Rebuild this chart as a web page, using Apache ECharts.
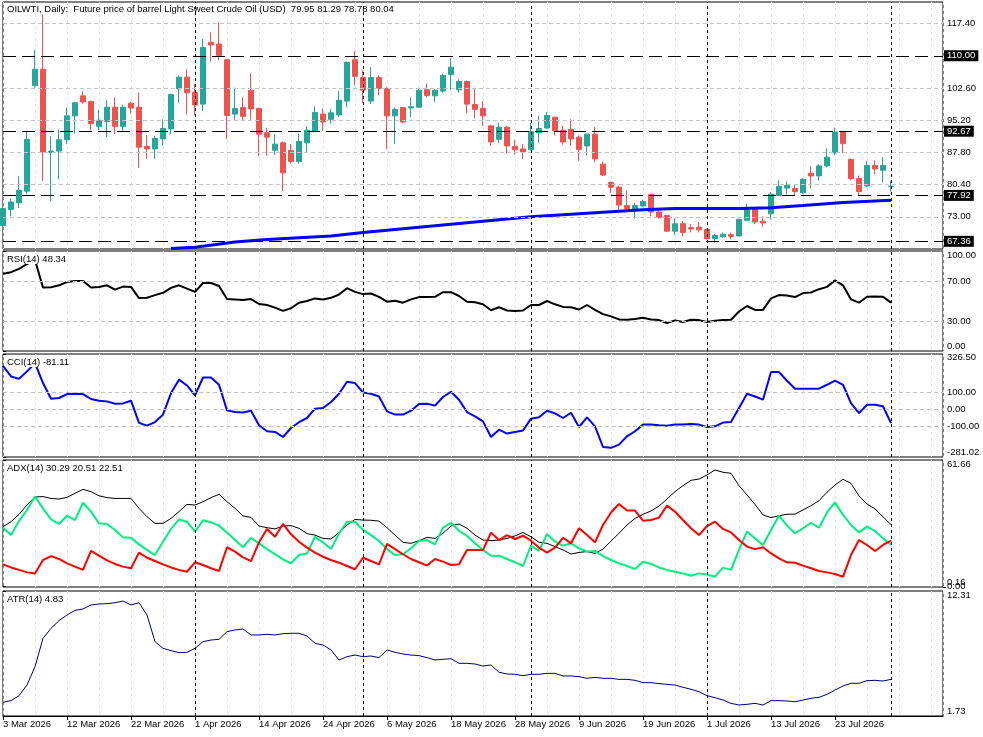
<!DOCTYPE html>
<html>
<head>
<meta charset="utf-8">
<title>OILWTI Daily</title>
<script src="https://cdn.jsdelivr.net/npm/echarts@6.0.0/dist/echarts.min.js"></script>
<style>
html, body { margin: 0; padding: 0; background: #fff; }
#chart { width: 983px; height: 737px; }
</style>
</head>
<body>
<div id="chart"></div>
<script>
// bottom axis: one date label every 8 bars
var dateLabels = ['3 Mar 2026', '12 Mar 2026', '22 Mar 2026', '1 Apr 2026', '14 Apr 2026', '24 Apr 2026', '6 May 2026',
  '18 May 2026', '28 May 2026', '9 Jun 2026', '19 Jun 2026', '1 Jul 2026', '13 Jul 2026', '23 Jul 2026'];
var dateLabelIdx = [0, 8, 16, 24, 32, 40, 48, 56, 64, 72, 80, 88, 96, 104];
var monthSeps = [24, 45, 66, 88, 111];

// daily candles
var opens = [71.0, 74.7, 76.2, 78.9, 103.2, 106.9, 87.8, 88.1, 90.7, 96.2,
  100.8, 99.5, 93.8, 94.9, 98.2, 93.8, 99.1, 98.2, 89.2, 88.6,
  90.9, 93.2, 102.4, 105.1, 101.6, 98.9, 113.1, 112.7, 109.1, 96.6,
  98.1, 102.1, 97.9, 92.3, 88.3, 90.0, 88.3, 85.7, 90.0, 92.6,
  96.6, 95.4, 96.4, 99.6, 109.1, 105.0, 99.6, 105.0, 102.5, 96.2,
  98.1, 98.0, 98.2, 102.2, 100.8, 101.9, 105.7, 102.2, 104.1, 98.8,
  97.9, 93.9, 90.8, 93.6, 89.2, 88.6, 88.4, 92.3, 93.4, 95.9,
  92.9, 93.1, 91.3, 89.3, 92.0, 85.1, 80.9, 79.8, 75.6, 74.8,
  75.5, 78.1, 74.1, 73.3, 69.7, 71.4, 70.5, 70.6, 70.1, 68.0,
  68.4, 68.9, 68.6, 72.2, 74.9, 72.0, 73.7, 77.9, 79.6, 79.5,
  78.5, 83.0, 82.4, 84.7, 87.7, 92.5, 86.2, 81.8, 80.1, 84.8,
  83.7, 79.95];
var highs = [75.2, 77.2, 82.3, 92.5, 111.3, 119.5, 91.5, 93.1, 98.1, 99.4,
  101.8, 99.7, 97.6, 99.8, 100.4, 98.8, 99.4, 101.6, 91.8, 91.6,
  95.4, 101.3, 105.5, 106.9, 103.6, 113.9, 115.4, 117.7, 109.3, 102.7,
  100.5, 105.9, 98.1, 93.4, 92.0, 90.3, 89.7, 92.1, 93.8, 98.4,
  97.9, 97.8, 101.9, 108.7, 111.1, 106.7, 107.4, 105.5, 102.8, 98.1,
  98.2, 100.4, 102.7, 103.6, 102.4, 105.9, 109.4, 104.6, 104.3, 102.7,
  99.6, 94.0, 94.6, 93.9, 90.7, 89.7, 94.6, 96.2, 97.1, 96.0,
  93.9, 95.4, 91.7, 92.1, 93.6, 85.7, 81.1, 80.2, 79.1, 76.2,
  76.9, 78.2, 74.5, 73.4, 72.6, 72.0, 71.3, 71.8, 70.3, 69.1,
  69.4, 69.4, 72.6, 76.0, 75.1, 73.1, 78.7, 81.4, 81.1, 80.5,
  81.9, 84.7, 85.1, 88.7, 93.5, 92.7, 86.4, 82.5, 85.8, 86.0,
  86.7, 81.29];
var lows = [70.5, 73.1, 75.0, 78.2, 102.7, 81.2, 76.6, 81.6, 89.7, 92.1,
  99.0, 92.9, 92.9, 91.3, 92.0, 92.6, 96.7, 84.2, 86.3, 86.3,
  89.4, 92.0, 99.2, 96.5, 96.3, 97.3, 108.7, 109.0, 90.9, 95.3,
  95.3, 95.3, 87.0, 87.0, 87.2, 78.9, 85.2, 85.2, 87.7, 92.6,
  92.7, 94.4, 95.9, 98.2, 103.2, 99.2, 98.9, 100.9, 88.6, 89.7,
  94.6, 95.9, 98.1, 100.5, 99.4, 101.5, 102.2, 101.5, 96.9, 95.7,
  93.9, 89.3, 89.9, 87.6, 87.3, 86.2, 88.4, 90.0, 93.3, 91.7,
  89.6, 89.3, 85.8, 87.1, 85.5, 82.4, 78.5, 74.7, 74.3, 72.6,
  75.3, 73.1, 72.6, 69.5, 68.8, 68.5, 69.4, 69.4, 67.8, 67.1,
  68.1, 67.8, 68.6, 72.0, 71.3, 70.7, 72.4, 77.9, 78.1, 77.9,
  78.3, 79.5, 81.3, 84.4, 87.2, 87.7, 81.4, 77.9, 79.9, 82.8,
  81.0, 78.78];
var closes = [74.9, 76.4, 79.1, 90.8, 106.9, 87.9, 88.1, 90.7, 96.2, 99.2,
  99.4, 94.4, 95.2, 98.2, 93.8, 98.2, 98.0, 89.0, 88.6, 91.0,
  93.3, 101.1, 105.1, 101.5, 98.7, 111.9, 112.5, 110.1, 96.3, 97.9,
  96.1, 97.8, 92.0, 91.3, 89.7, 83.1, 85.7, 90.3, 92.9, 97.0,
  94.8, 96.9, 99.8, 108.5, 105.3, 102.1, 105.0, 102.5, 96.2, 97.7,
  94.8, 98.3, 102.1, 100.9, 102.1, 105.5, 107.4, 104.1, 98.9, 97.7,
  96.2, 90.2, 93.6, 89.3, 88.4, 87.9, 92.6, 93.3, 96.3, 92.8,
  90.2, 90.9, 88.5, 92.0, 86.3, 82.6, 79.8, 75.7, 74.9, 75.6,
  76.5, 74.1, 72.8, 69.7, 71.4, 69.4, 70.2, 70.0, 68.0, 68.7,
  69.0, 68.5, 72.4, 74.9, 71.8, 71.6, 78.2, 80.0, 80.2, 78.8,
  81.6, 82.4, 84.7, 86.7, 92.5, 89.8, 81.8, 78.8, 84.8, 84.0,
  84.8, 80.04];

// long moving average, read at its visible turning points [bar, value]
var maPoints = [[21, 65.7], [24, 66.0], [29, 67.2], [33, 67.8], [41, 68.6], [45, 69.4], [60, 72.0], [66, 73.0],
  [80, 74.6], [84, 74.9], [92, 74.9], [96, 75.1], [100, 75.6], [105, 76.3], [111, 76.8]];

var priceTicks = [73.00, 80.40, 87.80, 95.20, 102.60, 117.40];
var priceLevels = [110.00, 92.67, 77.92, 67.36];

var rsi = [77.2, 78.8, 82.1, 87, 91, 63.4, 63.7, 65.7, 69.0, 70,
  70, 63.4, 64.1, 65.7, 61.4, 64.4, 64.1, 52.9, 53.2, 55.9,
  58.2, 63.1, 65.7, 62.4, 59.1, 68.0, 68.0, 65.0, 51.9, 51.6,
  50.9, 51.9, 47.0, 46.0, 43.4, 40.1, 42.8, 48.3, 50.0, 52.6,
  51.6, 53.2, 56.5, 62.8, 59.1, 56.9, 57.5, 54.2, 49.3, 50.3,
  48.3, 51.6, 53.9, 53.9, 54.2, 58.8, 58.8, 55.0, 49.3, 48.7,
  46.7, 40.8, 43.8, 40.5, 40.1, 40.5, 46.0, 46.0, 50.0, 46.7,
  44.1, 43.8, 41.5, 46.0, 41.1, 36.9, 34.6, 31.6, 31.3, 31.9,
  33.2, 31.6, 30.9, 28.0, 30.6, 29.0, 31.3, 30.9, 29.0, 30.3,
  30.9, 31.3, 39.5, 45.0, 41.1, 41.1, 52.6, 55.9, 55.6, 53.9,
  57.9, 58.5, 61.8, 64.1, 70.6, 65.7, 51.6, 48.3, 54.2, 54.6,
  54.2, 48.34];
var rsiTicks = [0, 30, 70, 100];
var rsiLevels = [30, 70];

var cci = [257, 194, 180, 224, 272, 155, 63, 67, 90, 92,
  90, 61, 51, 47, 33, 35, 51, -80, -96, -75,
  -31, 96, 175, 141, 82, 188, 188, 145, -6, -16,
  -18, -8, -94, -129, -133, -163, -110, -76, -51, 4,
  8, 43, 92, 163, 155, 100, 92, 76, -12, -31,
  -31, -8, 31, 33, 22, 73, 104, 57, -16, -41,
  -71, -163, -120, -143, -133, -125, -55, -47, -8, -24,
  -51, -20, -104, -47, -100, -222, -227, -208, -159, -129,
  -90, -90, -94, -96, -90, -90, -86, -90, -104, -100,
  -78, -75, 8, 92, 76, 57, 220, 220, 169, 122,
  122, 122, 122, 145, 169, 145, 37, -22, 27, 27,
  18, -81.11];
var cciTicks = [-281.02, -100, 0, 100, 326.5];
var cciLevels = [-100, 0, 100];

var adx = [29.3, 31.7, 35.3, 39.8, 43.7, 43.9, 43.0, 42.7, 43.5, 45.5,
  47.4, 46.3, 44.3, 43.4, 43.0, 43.0, 43.0, 38.2, 34.1, 30.9,
  30.9, 33.3, 36.6, 40.1, 39.8, 41.4, 43.4, 45.0, 41.4, 38.2,
  34.5, 33.8, 29.6, 28.8, 28.2, 29.6, 29.8, 28.5, 25.9, 25.2,
  23.6, 23.3, 26.4, 30.1, 32.8, 32.5, 32.4, 32.0, 28.8, 25.2,
  21.7, 21.2, 22.5, 24.1, 23.6, 26.1, 29.6, 30.6, 28.5, 25.2,
  22.8, 22.5, 22.8, 23.6, 24.8, 26.5, 24.4, 21.7, 21.2, 19.6,
  18.0, 16.0, 16.8, 17.2, 16.3, 18.4, 22.3, 26.1, 30.1, 33.3,
  35.3, 36.9, 39.3, 42.7, 46.3, 49.2, 51.8, 52.4, 54.4, 56.8,
  55.7, 55.2, 49.2, 44.7, 40.1, 35.0, 33.7, 34.6, 35.3, 35.4,
  37.4, 39.5, 41.9, 46.0, 49.5, 52.3, 50.3, 44.2, 40.3, 37.9,
  34.1, 30.29];
var plusDI = [28.8, 25.2, 32.0, 37.4, 43.9, 38.2, 32.8, 30.6, 34.6, 32.5,
  40.9, 36.6, 30.9, 30.6, 27.7, 24.1, 23.9, 20.7, 18.0, 15.5,
  22.0, 28.2, 32.8, 31.7, 26.9, 32.4, 31.4, 29.8, 26.5, 22.8,
  19.3, 23.9, 21.2, 18.4, 16.0, 13.4, 11.5, 15.5, 16.3, 24.4,
  21.7, 18.4, 25.9, 31.7, 31.7, 27.7, 25.2, 22.3, 18.4, 15.5,
  15.9, 18.8, 22.3, 22.8, 20.7, 28.8, 31.2, 27.3, 24.8, 21.2,
  18.0, 15.2, 15.2, 13.6, 12.0, 10.2, 20.1, 17.6, 25.7, 22.0,
  20.1, 21.2, 18.8, 17.2, 17.5, 15.0, 13.1, 11.5, 10.2, 8.7,
  12.3, 11.2, 9.5, 8.3, 7.4, 6.6, 5.5, 6.6, 6.1, 5.0,
  9.4, 8.3, 18.0, 26.9, 23.6, 20.4, 27.7, 34.6, 29.8, 26.1,
  28.5, 31.2, 28.8, 36.2, 41.1, 35.0, 30.1, 26.5, 29.3, 27.2,
  23.6, 20.51];
var minusDI = [11.0, 9.5, 8.3, 7.1, 6.5, 13.1, 15.0, 13.6, 11.5, 9.9,
  8.3, 17.5, 15.2, 12.9, 11.2, 9.9, 9.1, 16.7, 14.2, 12.6,
  11.0, 9.5, 8.3, 7.4, 12.0, 10.7, 9.1, 7.8, 19.3, 17.2,
  14.4, 12.6, 21.7, 28.2, 24.4, 30.6, 25.6, 22.0, 19.1, 16.7,
  14.7, 13.1, 11.8, 10.2, 8.6, 14.2, 12.6, 11.0, 20.9, 18.4,
  15.9, 13.6, 12.0, 10.4, 13.6, 12.3, 10.7, 11.0, 18.0, 18.0,
  18.0, 26.4, 22.8, 25.2, 23.3, 24.9, 22.5, 19.1, 16.7, 19.1,
  23.9, 21.2, 28.5, 25.2, 21.7, 30.1, 36.2, 40.3, 37.1, 37.1,
  32.2, 32.5, 33.7, 39.5, 36.6, 32.5, 28.5, 25.2, 29.6, 31.7,
  28.2, 26.5, 22.8, 19.6, 18.4, 19.3, 16.3, 13.9, 12.0, 11.8,
  10.4, 9.1, 7.8, 7.1, 6.3, 5.0, 15.5, 22.8, 20.4, 17.5,
  20.4, 22.51];
// the ADX pane shows 0.16 and 0.00 stacked at its foot, so the zero goes on its own axis
var adxTicks = [0.16, 61.66];
var adxZeroTicks = [0];

var atr = [2.89, 3.03, 3.45, 4.35, 5.91, 8.30, 9.15, 9.80, 10.28, 10.67,
  10.79, 11.13, 11.21, 11.24, 11.32, 11.46, 11.13, 11.32, 10.28, 8.02,
  7.46, 7.26, 7.09, 7.12, 7.46, 8.02, 8.16, 8.22, 8.87, 9.01,
  9.09, 8.59, 8.59, 8.64, 8.59, 8.70, 8.73, 8.73, 8.50, 7.88,
  7.74, 7.32, 6.47, 6.75, 6.89, 6.75, 6.81, 6.67, 7.32, 7.12,
  6.98, 6.89, 6.84, 6.67, 6.47, 6.53, 6.58, 6.19, 6.19, 6.13,
  5.96, 6.05, 5.43, 5.29, 5.26, 5.14, 5.26, 5.26, 5.34, 5.34,
  5.12, 5.12, 5.06, 4.92, 5.00, 4.92, 4.92, 4.83, 4.83, 4.75,
  4.55, 4.55, 4.47, 4.41, 4.35, 4.16, 3.99, 3.79, 3.45, 3.28,
  3.08, 2.80, 2.66, 2.72, 2.80, 2.66, 3.03, 3.03, 3.00, 2.94,
  3.08, 3.23, 3.31, 3.56, 3.93, 4.27, 4.50, 4.50, 4.72, 4.75,
  4.69, 4.83];
var atrTicks = [1.73, 12.31];

var FONT = 'Liberation Sans';
var FS = 9.5;
var last = closes.length - 1;

function byBar(arr) {
  return arr.map(function (v, i) { return [i, v]; });
}

var candleData = opens.map(function (o, i) {
  return [i, o, closes[i], lows[i], highs[i]];
});

// helpers for the mark lines
function gridY(v) {
  return { yAxis: v, lineStyle: { color: '#c4c4c4', type: [4, 3], width: 1 }, label: { show: false } };
}
function sepX(v) {
  return { xAxis: v, lineStyle: { color: '#000', type: [3, 3], width: 1 }, label: { show: false } };
}
function levelY(v) {
  return {
    yAxis: v,
    lineStyle: { color: '#000', type: [13, 6], width: 1 },
    label: {
      show: true, position: 'end', distance: 1, formatter: v.toFixed(2),
      color: '#fff', backgroundColor: '#000', padding: [1, 3, 0, 3],
      fontFamily: FONT, fontSize: FS
    }
  };
}
function marks(list) {
  return { silent: true, symbol: ['none', 'none'], animation: false, data: list };
}

var richShift = {
  dn: { padding: [9, 0, 0, 0], fontFamily: FONT, fontSize: FS, color: '#000' },
  dn3: { padding: [6, 0, 0, 0], fontFamily: FONT, fontSize: FS, color: '#000' },
  up: { padding: [0, 0, 10, 0], fontFamily: FONT, fontSize: FS, color: '#000' },
  up4: { padding: [0, 0, 8, 0], fontFamily: FONT, fontSize: FS, color: '#000' },
  up1: { padding: [0, 0, 2, 0], fontFamily: FONT, fontSize: FS, color: '#000' }
};

function rightAxis(grid, min, max, ticks, shift) {
  return {
    type: 'value', gridIndex: grid, position: 'right', offset: 0, min: min, max: max,
    splitLine: { show: false },
    axisLine: { show: false },
    axisTick: { show: true, length: 3, customValues: ticks, lineStyle: { color: '#000' } },
    axisLabel: {
      customValues: ticks, showMinLabel: true, showMaxLabel: true, hideOverlap: false, margin: 4,
      color: '#000', fontFamily: FONT, fontSize: FS,
      formatter: function (v) {
        var s = v.toFixed(2);
        var k = shift && shift[s];
        return k ? '{' + k + '|' + s + '}' : s;
      },
      rich: richShift
    }
  };
}

function barAxis(grid) {
  return {
    type: 'value', gridIndex: grid, position: 'bottom', min: 0, max: 117.5, interval: 4,
    axisLine: { show: false }, axisTick: { show: false }, axisLabel: { show: false },
    splitLine: { show: true, lineStyle: { color: '#e6e6e6', type: [3, 3], width: 1 } }
  };
}

var panes = [
  { top: 2, height: 247 },
  { top: 251, height: 100 },
  { top: 354, height: 103 },
  { top: 460, height: 127 },
  { top: 591, height: 125 }
];

var xAxes = panes.map(function (p, k) { return barAxis(k); });
// date labels under the last pane
xAxes.push({
  type: 'value', gridIndex: 4, position: 'bottom', min: 0, max: 117.5,
  axisLine: { show: true, lineStyle: { color: '#000', width: 1 } },
  axisTick: { show: true, length: 4, customValues: dateLabelIdx, lineStyle: { color: '#000' } },
  axisLabel: {
    customValues: dateLabelIdx, align: 'left', margin: 3, color: '#000', fontFamily: FONT, fontSize: FS,
    showMinLabel: true, showMaxLabel: true,
    formatter: function (v) { var n = dateLabelIdx.indexOf(v); return n < 0 ? '' : dateLabels[n]; }
  },
  splitLine: { show: false }
});

var titleStyle = { fontFamily: FONT, fontSize: FS, fontWeight: 'normal', color: '#000' };
var seps = monthSeps.map(sepX);

var option = {
  animation: false,
  backgroundColor: '#fff',
  title: [
    { text: 'OILWTI, Daily:  Future price of barrel Light Sweet Crude Oil (USD)  ' +
        [opens[last], highs[last], lows[last], closes[last]].map(function (v) { return v.toFixed(2); }).join(' '),
      left: 5, top: 4, padding: [0, 2], textStyle: titleStyle },
    { text: 'RSI(14) ' + rsi[last].toFixed(2), left: 5, top: 254, padding: [0, 2], backgroundColor: '#fff', textStyle: titleStyle },
    { text: 'CCI(14) ' + cci[last].toFixed(2), left: 5, top: 357, padding: [0, 2], backgroundColor: '#fff', textStyle: titleStyle },
    { text: 'ADX(14) ' + [adx[last], plusDI[last], minusDI[last]].map(function (v) { return v.toFixed(2); }).join(' '),
      left: 5, top: 463, padding: [0, 2], backgroundColor: '#fff', textStyle: titleStyle },
    { text: 'ATR(14) ' + atr[last].toFixed(2), left: 5, top: 594, padding: [0, 2], backgroundColor: '#fff', textStyle: titleStyle }
  ],
  grid: panes.map(function (p) {
    return { left: 3, right: 40, top: p.top, height: p.height, show: true, borderColor: '#000', borderWidth: 1, backgroundColor: 'transparent' };
  }),
  xAxis: xAxes,
  yAxis: [
    rightAxis(0, 65.6, 122.37, priceTicks, null),
    rightAxis(1, 0, 100, rsiTicks, { '100.00': 'dn', '0.00': 'up' }),
    rightAxis(2, -281.02, 326.5, cciTicks, { '326.50': 'dn3', '-281.02': 'up' }),
    rightAxis(3, 0, 61.66, adxTicks, { '61.66': 'dn', '0.16': 'up4' }),
    rightAxis(4, 1.73, 12.31, atrTicks, { '12.31': 'dn', '1.73': 'up' }),
    rightAxis(3, 0, 61.66, adxZeroTicks, { '0.00': 'up1' })
  ],
  series: [
    {
      type: 'candlestick', xAxisIndex: 0, yAxisIndex: 0,
      data: candleData, encode: { x: 0, y: [1, 2, 3, 4] },
      barWidth: 5,
      itemStyle: { color: '#26a69a', color0: '#ef5350', borderColor: '#26a69a', borderColor0: '#ef5350', borderWidth: 1 },
      markLine: marks(priceTicks.map(gridY).concat(seps, priceLevels.map(levelY)))
    },
    {
      type: 'line', xAxisIndex: 0, yAxisIndex: 0, data: maPoints,
      symbol: 'none', lineStyle: { color: '#0000ff', width: 3 }, z: 3
    },
    {
      type: 'line', xAxisIndex: 1, yAxisIndex: 1, data: byBar(rsi),
      symbol: 'none', lineStyle: { color: '#000', width: 2 },
      markLine: marks(rsiLevels.map(gridY).concat(seps))
    },
    {
      type: 'line', xAxisIndex: 2, yAxisIndex: 2, data: byBar(cci),
      symbol: 'none', lineStyle: { color: '#0000ff', width: 2 },
      markLine: marks(cciLevels.map(gridY).concat(seps))
    },
    {
      type: 'line', xAxisIndex: 3, yAxisIndex: 3, data: byBar(adx),
      symbol: 'none', lineStyle: { color: '#000', width: 1 },
      markLine: marks(seps)
    },
    {
      type: 'line', xAxisIndex: 3, yAxisIndex: 3, data: byBar(plusDI),
      symbol: 'none', lineStyle: { color: '#00f080', width: 2 }
    },
    {
      type: 'line', xAxisIndex: 3, yAxisIndex: 3, data: byBar(minusDI),
      symbol: 'none', lineStyle: { color: '#ff0000', width: 2 }
    },
    {
      type: 'line', xAxisIndex: 4, yAxisIndex: 4, data: byBar(atr),
      symbol: 'none', lineStyle: { color: '#000080', width: 1 },
      markLine: marks(seps)
    }
  ]
};

var chart = echarts.init(document.getElementById('chart'));
chart.setOption(option);
</script>
</body>
</html>
